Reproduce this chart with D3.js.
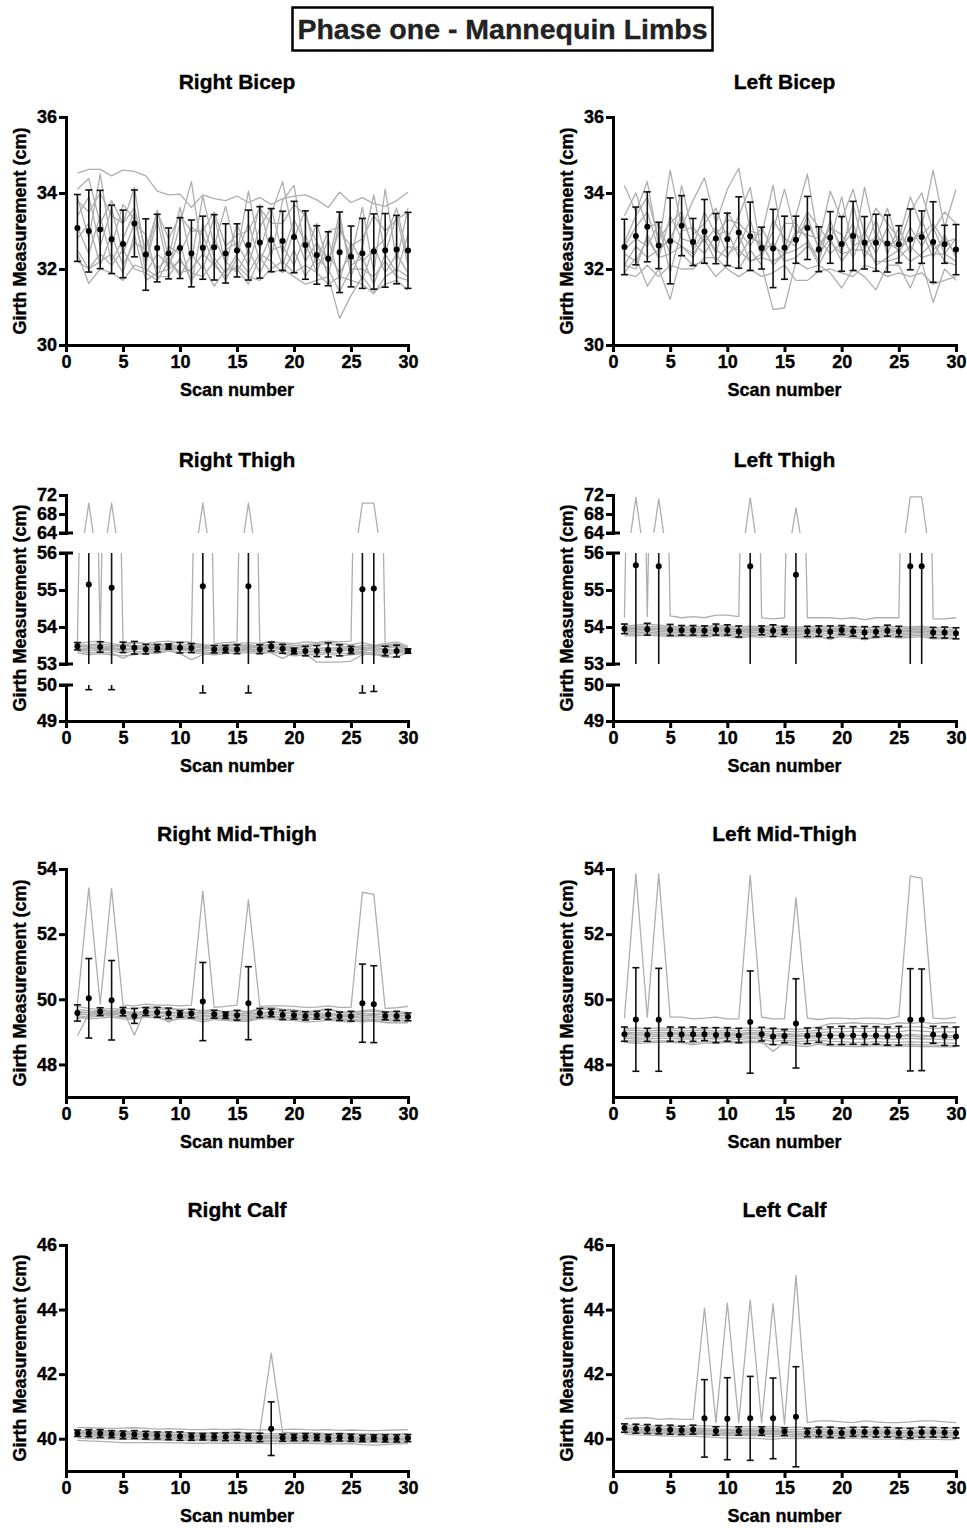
<!DOCTYPE html>
<html><head><meta charset="utf-8">
<script src="https://cdn.jsdelivr.net/npm/d3@7"></script>
<style>
body{margin:0;background:#fff;}
svg text{font-family:"Liberation Sans",Arial,Helvetica,sans-serif;font-weight:bold;}
</style></head><body>
<svg id="c" width="967" height="1528"></svg>
<script>
// ---------------- DATA ----------------
const scans=[1,2,3,4,5,6,7,8,9,10,11,12,13,14,15,16,17,18,19,20,21,22,23,24,25,26,27,28,29,30];
const xTickValues=[0,5,10,15,20,25,30];
const panelTitles=["Right Bicep","Left Bicep","Right Thigh","Left Thigh","Right Mid-Thigh","Left Mid-Thigh","Right Calf","Left Calf"];
const yTicksBicep=[30,32,34,36];
const yTicksThighLow=[49,50], yTicksThighMid=[53,54,55,56], yTicksThighHigh=[64,68,72];
const yTicksMidThigh=[48,50,52,54];
const yTicksCalf=[40,42,44,46];

// Right Bicep
const rbMean=[33.08,33.0,33.04,32.78,32.66,33.2,32.38,32.55,32.41,32.55,32.41,32.56,32.57,32.41,32.49,32.63,32.70,32.76,32.74,32.84,32.63,32.37,32.27,32.44,32.33,32.41,32.46,32.49,32.51,32.49];
const rbSD=[0.88,1.08,1.03,0.9,0.89,0.88,0.94,0.89,0.67,0.8,0.88,0.83,0.86,0.78,0.7,0.92,0.94,0.83,0.78,0.94,0.9,0.77,0.71,1.06,0.8,0.92,0.99,0.97,0.9,1.0];
const rbLines=[
[34.52,34.62,34.62,34.45,34.60,34.57,34.45,34.05,33.95,33.97,33.62,33.95,33.85,33.80,33.92,33.75,33.88,33.70,33.85,33.92,33.95,33.82,33.62,34.02,33.75,33.88,33.72,33.65,33.80,34.02],
[34.10,34.38,33.20,33.80,33.20,34.15,32.20,33.55,32.30,33.62,32.20,33.92,32.60,33.65,32.40,34.05,32.50,33.45,34.30,32.80,33.55,32.20,33.00,33.10,32.30,33.62,31.90,34.10,32.20,33.60],
[33.90,32.80,34.50,32.60,33.70,33.30,32.10,33.30,32.00,33.20,34.30,32.30,33.40,32.10,33.20,32.40,33.70,32.30,33.80,34.20,32.40,33.20,32.10,33.50,31.80,32.60,33.95,32.40,33.40,32.10],
[33.40,33.90,32.60,33.60,32.40,33.20,32.90,31.80,32.60,32.40,33.10,32.90,32.10,32.50,32.70,32.10,33.10,33.60,32.40,33.30,32.70,31.90,32.80,31.70,32.70,32.20,32.50,32.80,33.60,32.30],
[33.10,32.40,33.40,32.20,32.80,33.50,31.90,32.40,32.10,32.70,31.60,33.20,32.30,31.90,32.40,33.20,32.20,32.90,32.10,33.00,32.20,32.70,31.80,33.30,32.10,32.30,31.60,32.40,31.90,32.90],
[32.80,33.20,32.10,32.90,32.10,32.70,32.50,32.00,32.30,31.80,32.40,32.00,32.80,32.20,31.90,32.50,31.90,32.50,32.60,32.10,32.90,32.10,32.40,31.90,32.40,31.70,32.60,31.90,32.40,31.90],
[32.50,32.00,32.20,32.40,31.90,32.90,31.70,31.90,32.00,32.20,31.90,31.80,32.20,31.70,32.30,31.90,32.40,32.20,31.90,32.50,31.80,32.30,32.00,31.40,32.00,32.00,31.80,32.20,31.80,31.70],
[32.40,31.62,32.00,31.90,31.70,32.10,32.00,31.80,31.80,32.30,31.70,32.10,31.55,32.00,32.00,31.60,32.30,31.90,32.00,31.80,31.60,31.70,31.80,30.70,31.30,31.80,31.40,31.60,31.70,31.45],
[32.20,32.00,32.40,32.10,32.50,32.00,31.90,31.70,32.20,31.90,32.00,32.40,32.10,31.80,32.10,31.80,31.70,32.00,32.20,31.90,32.10,31.90,31.60,31.80,31.70,31.60,31.35,31.80,32.00,31.80],
[33.80,33.50,34.00,33.40,33.20,33.60,32.50,33.50,32.80,33.40,33.00,33.00,33.50,32.60,32.90,33.00,33.60,33.20,33.20,33.70,33.40,32.70,32.20,33.00,32.60,32.80,33.40,33.00,33.30,33.50]];

// Left Bicep
const lbMean=[32.58,32.87,33.11,32.62,32.74,33.14,32.71,32.99,32.80,32.78,32.96,32.86,32.55,32.54,32.56,32.77,33.08,32.52,32.83,32.66,32.87,32.69,32.69,32.67,32.65,32.78,32.84,32.71,32.65,32.51];
const lbSD=[0.73,0.76,0.92,0.61,1.13,0.79,0.62,0.84,0.66,0.69,0.94,0.90,0.55,1.03,0.83,0.62,0.83,0.59,0.68,0.72,0.91,0.69,0.75,0.75,0.49,0.80,0.69,1.06,0.50,0.66];
const lbLines=[
[34.20,33.50,34.30,32.60,34.60,33.10,33.80,34.40,33.20,34.10,34.65,33.00,32.90,34.20,32.50,33.40,34.50,32.70,34.05,33.30,34.10,32.90,33.60,33.20,32.80,33.90,33.10,34.60,33.10,34.10],
[33.40,34.00,33.10,33.20,32.40,34.20,32.90,33.20,33.60,32.80,33.40,34.15,32.40,33.00,34.10,32.90,33.50,33.10,32.70,33.90,32.50,34.15,32.80,33.60,32.60,33.50,34.00,33.00,33.50,33.20],
[32.70,33.40,33.90,32.80,33.20,33.50,32.50,33.00,32.40,33.50,33.00,32.60,33.10,32.50,33.20,33.20,32.80,32.20,33.30,32.40,33.70,32.50,33.30,32.40,33.10,32.40,33.30,32.50,32.80,32.40],
[32.50,32.80,32.60,33.20,31.90,33.00,33.10,32.70,33.10,32.40,32.60,33.30,32.30,33.30,32.80,32.60,33.40,32.50,33.10,32.90,32.30,33.00,32.40,33.10,32.40,33.10,32.60,33.10,32.40,32.80],
[32.40,32.20,32.80,32.30,33.40,32.80,32.70,32.40,32.90,33.00,32.30,32.80,32.70,32.10,32.40,33.00,32.90,32.80,32.40,32.70,33.20,32.30,32.90,32.60,32.80,32.70,33.00,32.30,32.90,32.30],
[32.10,32.60,32.30,32.50,32.80,32.60,32.30,32.90,32.50,32.30,32.90,32.20,32.40,32.70,32.20,32.30,32.60,32.40,32.80,32.20,32.60,32.80,32.10,32.30,32.50,32.20,32.40,32.70,32.20,32.10],
[31.90,32.30,31.55,32.00,31.20,32.40,32.10,32.20,31.80,32.10,32.00,32.50,32.10,30.93,30.98,32.20,32.00,32.10,31.90,31.50,32.00,31.80,31.45,32.10,32.10,31.50,32.20,31.12,32.00,31.70],
[31.88,31.80,32.10,31.80,32.10,32.00,32.00,32.30,32.30,32.00,31.80,32.00,31.80,31.90,32.10,31.70,31.70,31.95,32.00,31.90,31.80,32.10,32.00,31.80,31.90,31.80,31.90,31.60,31.70,31.80],
[32.60,33.10,33.50,32.50,32.80,33.40,32.60,33.50,32.90,33.30,33.20,32.90,32.60,32.60,32.40,32.90,33.20,32.60,33.10,32.60,33.00,32.70,32.80,32.70,32.50,32.80,32.90,33.20,32.70,32.80],
[32.10,32.00,32.90,32.30,32.40,32.60,32.40,32.80,32.20,32.60,32.50,32.20,32.30,32.20,32.40,32.50,32.70,32.10,32.70,32.40,32.50,32.50,32.20,32.20,32.30,32.60,32.30,32.40,32.40,32.20]];

// Right Thigh
const rtMean=[53.48,55.15,53.46,55.06,53.45,53.44,53.40,53.43,53.47,53.44,53.43,55.10,53.40,53.40,53.40,55.10,53.40,53.47,53.41,53.35,53.35,53.35,53.38,53.37,53.38,55.02,55.04,53.35,53.35,53.35];
const rtSD=[0.10,5.28,0.14,5.19,0.14,0.17,0.13,0.10,0.07,0.14,0.12,5.32,0.10,0.10,0.12,5.32,0.12,0.12,0.12,0.08,0.13,0.15,0.19,0.15,0.10,5.24,5.22,0.13,0.16,0.06];
const rtLines=[
[53.60,70.30,53.60,70.30,53.55,53.60,53.55,53.60,53.62,53.58,53.60,70.30,53.55,53.58,53.60,70.30,53.55,53.60,53.58,53.55,53.60,53.58,53.62,53.60,53.62,70.30,70.30,53.50,53.55,53.45],
[53.55,53.60,53.62,53.55,53.50,53.58,53.55,53.52,53.55,53.60,53.58,53.52,53.50,53.52,53.55,53.58,53.55,53.62,53.55,53.50,53.52,53.55,53.60,53.55,53.52,53.58,53.50,53.55,53.60,53.48],
[53.50,53.52,53.55,53.50,53.45,53.50,53.48,53.50,53.52,53.50,53.55,53.48,53.45,53.48,53.50,53.52,53.48,53.55,53.50,53.45,53.48,53.50,53.55,53.48,53.45,53.50,53.48,53.50,53.52,53.42],
[53.45,53.48,53.50,53.45,53.40,53.45,53.42,53.45,53.48,53.45,53.48,53.42,53.40,53.42,53.45,53.48,53.42,53.48,53.42,53.38,53.40,53.42,53.45,53.40,53.42,53.45,53.40,53.42,53.48,53.38],
[53.40,53.42,53.45,53.40,53.35,53.40,53.38,53.40,53.45,53.42,53.42,53.38,53.35,53.38,53.40,53.42,53.38,53.42,53.38,53.32,53.35,53.35,53.38,53.35,53.38,53.40,53.35,53.35,53.40,53.35],
[53.38,53.35,53.40,53.35,53.30,53.35,53.32,53.38,53.42,53.38,53.35,53.32,53.30,53.32,53.35,53.35,53.32,53.38,53.32,53.28,53.30,53.30,53.32,53.28,53.30,53.32,53.30,53.30,53.35,53.32],
[53.35,53.30,53.32,53.30,53.15,53.30,53.28,53.32,53.38,53.32,53.30,53.28,53.25,53.28,53.30,53.30,53.28,53.32,53.28,53.22,53.25,53.25,53.28,53.22,53.25,53.28,53.25,53.25,53.30,53.30],
[53.30,53.25,53.28,53.25,53.22,53.25,53.30,53.28,53.35,53.28,53.12,53.25,53.30,53.35,53.38,53.40,53.32,53.30,53.15,53.30,53.28,53.05,53.05,53.05,53.08,53.25,53.28,53.18,53.20,53.30],
[53.50,53.45,53.38,53.48,53.52,53.48,53.45,53.42,53.40,53.45,53.50,53.45,53.42,53.45,53.42,53.45,53.48,53.50,53.45,53.42,53.45,53.40,53.42,53.45,53.48,53.42,53.45,53.48,53.45,53.40],
[53.42,53.38,53.35,53.42,53.38,53.42,53.40,53.35,53.45,53.40,53.38,53.35,53.38,53.40,53.35,53.38,53.40,53.45,53.40,53.35,53.32,53.38,53.35,53.40,53.35,53.35,53.38,53.40,53.38,53.36]];

// Left Thigh
const ltMean=[53.95,55.67,53.94,55.64,53.92,53.91,53.91,53.90,53.93,53.92,53.88,55.64,53.91,53.90,53.91,55.41,53.88,53.89,53.87,53.92,53.88,53.85,53.87,53.90,53.88,55.64,55.64,53.85,53.85,53.83];
const ltSD=[0.13,5.45,0.16,5.40,0.15,0.13,0.13,0.13,0.15,0.14,0.15,5.42,0.12,0.16,0.11,4.80,0.14,0.14,0.16,0.12,0.13,0.16,0.14,0.15,0.14,5.50,5.50,0.14,0.15,0.15];
const ltLines=[
[54.25,71.50,54.28,71.20,54.30,54.25,54.28,54.25,54.32,54.32,54.28,71.40,54.25,54.22,54.25,69.30,54.25,54.25,54.25,54.22,54.25,54.20,54.25,54.25,54.25,71.60,71.60,54.22,54.22,54.25],
[54.02,54.05,54.08,54.05,54.02,54.00,54.02,54.00,54.05,54.02,54.00,54.02,54.00,54.05,54.00,54.00,54.00,54.02,54.00,54.02,54.00,53.98,54.00,54.02,54.00,54.00,54.02,53.98,53.98,53.98],
[53.98,54.00,54.02,54.00,53.98,53.96,53.98,53.96,54.00,53.98,53.95,53.98,53.96,54.00,53.96,53.96,53.95,53.98,53.95,53.98,53.95,53.92,53.95,53.98,53.95,53.96,53.98,53.92,53.92,53.92],
[53.95,53.96,53.98,53.95,53.94,53.92,53.94,53.92,53.96,53.94,53.90,53.94,53.92,53.95,53.92,53.92,53.90,53.94,53.90,53.95,53.90,53.88,53.90,53.94,53.90,53.92,53.94,53.88,53.88,53.88],
[53.92,53.92,53.94,53.92,53.90,53.88,53.90,53.88,53.92,53.90,53.86,53.90,53.88,53.92,53.88,53.88,53.86,53.90,53.86,53.90,53.86,53.84,53.86,53.90,53.86,53.88,53.90,53.84,53.84,53.84],
[53.88,53.88,53.90,53.88,53.86,53.84,53.86,53.84,53.88,53.86,53.82,53.86,53.84,53.88,53.84,53.84,53.82,53.86,53.80,53.86,53.82,53.78,53.82,53.86,53.82,53.84,53.86,53.80,53.80,53.80],
[53.84,53.84,53.86,53.84,53.82,53.80,53.82,53.80,53.84,53.82,53.78,53.82,53.80,53.84,53.80,53.80,53.78,53.82,53.74,53.82,53.78,53.70,53.78,53.82,53.78,53.80,53.82,53.76,53.76,53.76],
[53.80,53.80,53.82,53.80,53.78,53.76,53.78,53.76,53.80,53.78,53.74,53.78,53.76,53.80,53.76,53.76,53.74,53.76,53.66,53.78,53.74,53.65,53.74,53.78,53.74,53.76,53.78,53.72,53.70,53.72],
[53.76,53.76,53.78,53.76,53.74,53.74,53.74,53.72,53.76,53.74,53.70,53.74,53.72,53.76,53.72,53.72,53.70,53.72,53.70,53.74,53.70,53.68,53.70,53.74,53.70,53.72,53.74,53.68,53.68,53.68],
[53.90,53.94,53.92,53.96,53.92,53.94,53.88,53.90,53.94,53.92,53.94,53.88,53.94,53.86,53.94,53.90,53.92,53.88,53.92,53.88,53.92,53.90,53.88,53.92,53.88,53.90,53.86,53.90,53.86,53.90]];

// Right Mid-Thigh
const rmMean=[49.58,50.03,49.62,49.97,49.62,49.49,49.62,49.60,49.57,49.55,49.56,49.93,49.54,49.51,49.51,49.88,49.58,49.58,49.52,49.51,49.49,49.51,49.53,49.48,49.48,49.88,49.85,49.49,49.49,49.46];
const rmSD=[0.25,1.22,0.12,1.22,0.13,0.23,0.12,0.15,0.16,0.10,0.13,1.20,0.12,0.10,0.15,1.12,0.14,0.12,0.14,0.12,0.13,0.12,0.15,0.13,0.15,1.20,1.18,0.12,0.14,0.12];
const rmLines=[
[49.85,53.42,49.85,53.40,49.82,49.80,49.85,49.82,49.82,49.80,49.82,53.32,49.75,49.78,49.82,53.05,49.78,49.80,49.80,49.78,49.75,49.76,49.80,49.75,49.75,53.28,53.22,49.72,49.74,49.78],
[48.88,49.55,49.70,49.60,49.72,49.70,49.78,49.75,49.72,49.70,49.68,49.65,49.68,49.62,49.65,49.62,49.72,49.75,49.70,49.68,49.62,49.65,49.72,49.62,49.60,49.65,49.68,49.62,49.62,49.60],
[49.78,49.72,49.68,49.72,49.68,48.90,49.72,49.70,49.68,49.68,49.70,49.60,49.65,49.60,49.62,49.60,49.68,49.70,49.66,49.64,49.58,49.62,49.68,49.60,49.58,49.62,49.64,49.58,49.58,49.55],
[49.68,49.65,49.62,49.65,49.62,49.55,49.65,49.62,49.60,49.60,49.62,49.55,49.58,49.55,49.55,49.55,49.60,49.62,49.58,49.56,49.52,49.55,49.60,49.52,49.50,49.55,49.56,49.52,49.52,49.50],
[49.60,49.58,49.56,49.60,49.56,49.52,49.60,49.58,49.55,49.55,49.56,49.50,49.52,49.50,49.50,49.50,49.55,49.56,49.52,49.50,49.48,49.50,49.55,49.48,49.46,49.50,49.50,49.46,49.46,49.45],
[49.55,49.52,49.52,49.55,49.50,49.48,49.55,49.52,49.50,49.50,49.50,49.45,49.48,49.45,49.45,49.45,49.50,49.50,49.46,49.45,49.42,49.45,49.48,49.42,49.42,49.45,49.45,49.40,49.40,49.40],
[49.50,49.45,49.48,49.50,49.45,49.42,49.50,49.48,49.45,49.45,49.45,49.38,49.42,49.40,49.40,49.40,49.45,49.45,49.40,49.40,49.38,49.40,49.42,49.36,49.36,49.40,49.38,49.35,49.35,49.35],
[49.45,49.40,49.42,49.45,49.40,49.38,49.45,49.42,49.35,49.40,49.40,49.30,49.38,49.35,49.32,49.32,49.40,49.40,49.35,49.35,49.30,49.32,49.36,49.32,49.30,49.35,49.32,49.30,49.30,49.30],
[49.40,49.50,49.55,49.52,49.58,49.62,49.55,49.50,49.30,49.45,49.50,49.35,49.45,49.40,49.38,49.35,49.45,49.50,49.42,49.45,49.40,49.45,49.42,49.38,49.35,49.30,49.35,49.28,49.28,49.28],
[49.62,49.60,49.58,49.55,49.62,49.60,49.62,49.60,49.62,49.58,49.60,49.58,49.55,49.58,49.52,49.58,49.55,49.60,49.62,49.55,49.60,49.52,49.50,49.55,49.52,49.58,49.52,49.55,49.50,49.52]];

// Left Mid-Thigh
const lmMean=[48.93,49.38,48.91,49.37,48.93,48.92,48.93,48.93,48.90,48.92,48.89,49.30,48.93,48.86,48.87,49.26,48.88,48.90,48.88,48.89,48.89,48.89,48.89,48.87,48.88,49.37,49.37,48.91,48.87,48.86];
const lmSD=[0.22,1.59,0.20,1.58,0.22,0.22,0.22,0.20,0.23,0.21,0.22,1.57,0.21,0.25,0.20,1.37,0.24,0.22,0.27,0.28,0.27,0.28,0.27,0.28,0.29,1.57,1.56,0.26,0.29,0.29];
const lmLines=[
[49.42,53.85,49.45,53.85,49.45,49.45,49.40,49.42,49.45,49.40,49.40,53.80,49.45,49.40,49.40,53.12,49.42,49.38,49.42,49.42,49.40,49.42,49.42,49.40,49.47,53.78,53.72,49.42,49.40,49.45],
[49.10,49.12,49.10,49.12,49.10,49.10,49.12,49.10,49.12,49.10,49.10,49.12,49.10,49.08,49.10,49.08,49.10,49.15,49.25,49.25,49.28,49.25,49.25,49.22,49.28,49.25,49.30,49.25,49.28,49.28],
[49.05,49.05,49.02,49.05,49.05,49.02,49.05,49.05,49.02,49.05,49.02,49.05,49.02,49.00,49.02,49.00,49.02,49.05,49.10,49.10,49.12,49.10,49.12,49.10,49.12,49.15,49.15,49.10,49.12,49.12],
[48.98,48.98,48.96,48.98,48.98,48.96,48.98,48.98,48.96,48.98,48.95,48.98,48.96,48.92,48.95,48.92,48.95,48.98,49.00,49.00,49.02,49.00,49.02,49.00,49.00,49.05,49.02,49.00,49.00,49.00],
[48.92,48.90,48.90,48.92,48.92,48.90,48.92,48.92,48.90,48.92,48.88,48.92,48.90,48.85,48.88,48.85,48.88,48.90,48.88,48.90,48.90,48.88,48.90,48.88,48.88,48.92,48.90,48.88,48.88,48.88],
[48.85,48.84,48.84,48.86,48.86,48.84,48.85,48.86,48.84,48.85,48.82,48.85,48.84,48.78,48.82,48.78,48.80,48.82,48.78,48.80,48.78,48.78,48.80,48.78,48.78,48.80,48.78,48.78,48.76,48.76],
[48.80,48.78,48.78,48.80,48.80,48.78,48.78,48.80,48.78,48.80,48.76,48.80,48.78,48.70,48.75,48.70,48.72,48.75,48.70,48.70,48.68,48.68,48.70,48.68,48.68,48.70,48.68,48.68,48.66,48.65],
[48.72,48.72,48.70,48.72,48.72,48.70,48.65,48.72,48.70,48.72,48.70,48.72,48.70,48.40,48.68,48.65,48.62,48.68,48.60,48.62,48.60,48.60,48.62,48.60,48.60,48.62,48.60,48.60,48.58,48.58],
[48.68,48.65,48.66,48.68,48.68,48.66,48.60,48.66,48.65,48.68,48.65,48.68,48.66,48.60,48.62,48.58,48.55,48.62,48.56,48.56,48.55,48.55,48.58,48.55,48.55,48.56,48.55,48.55,48.54,48.54],
[48.95,48.92,48.94,48.90,48.94,48.92,48.88,48.92,48.94,48.90,48.92,48.94,48.90,48.88,48.92,48.90,48.85,48.88,48.92,48.86,48.88,48.90,48.84,48.88,48.86,48.88,48.84,48.88,48.82,48.84]];

// Right Calf
const rcMean=[40.17,40.17,40.16,40.14,40.12,40.13,40.11,40.10,40.09,40.08,40.06,40.06,40.06,40.06,40.07,40.05,40.04,40.31,40.03,40.04,40.05,40.04,40.02,40.04,40.03,40.01,40.02,40.01,40.01,40.02];
const rcSD=[0.10,0.11,0.12,0.11,0.12,0.12,0.12,0.11,0.12,0.13,0.11,0.10,0.11,0.12,0.12,0.11,0.13,0.83,0.11,0.10,0.11,0.10,0.11,0.11,0.11,0.10,0.10,0.11,0.11,0.11];
const rcLines=[
[40.25,40.25,40.22,40.22,40.20,40.22,40.20,40.20,40.18,40.20,40.18,40.18,40.18,40.20,40.20,40.18,40.20,42.65,40.20,40.18,40.18,40.18,40.15,40.18,40.15,40.15,40.15,40.15,40.15,40.15],
[40.35,40.34,40.33,40.32,40.33,40.34,40.32,40.30,40.31,40.30,40.28,40.28,40.30,40.28,40.30,40.28,40.27,40.28,40.28,40.30,40.28,40.27,40.28,40.26,40.27,40.26,40.25,40.26,40.27,40.28],
[40.25,40.24,40.25,40.24,40.22,40.22,40.21,40.20,40.20,40.19,40.18,40.18,40.18,40.17,40.18,40.16,40.16,40.16,40.15,40.16,40.16,40.15,40.14,40.15,40.15,40.14,40.13,40.13,40.14,40.14],
[40.20,40.20,40.19,40.18,40.17,40.17,40.16,40.15,40.14,40.13,40.12,40.12,40.12,40.11,40.12,40.10,40.10,40.10,40.10,40.10,40.10,40.10,40.08,40.10,40.09,40.08,40.08,40.08,40.08,40.08],
[40.16,40.16,40.14,40.14,40.12,40.12,40.11,40.10,40.09,40.08,40.07,40.06,40.06,40.06,40.06,40.05,40.04,40.04,40.04,40.05,40.04,40.04,40.02,40.04,40.03,40.02,40.02,40.02,40.02,40.02],
[40.12,40.11,40.10,40.10,40.08,40.08,40.07,40.06,40.05,40.04,40.02,40.02,40.02,40.02,40.02,40.00,40.00,40.00,40.00,40.00,40.00,39.99,39.98,40.00,39.98,39.98,39.98,39.97,39.97,39.98],
[40.08,40.06,40.06,40.05,40.04,40.04,40.02,40.02,40.00,40.00,39.98,39.98,39.98,39.97,39.98,39.96,39.96,39.95,39.96,39.96,39.96,39.95,39.94,39.95,39.94,39.94,39.93,39.93,39.93,39.93],
[40.02,40.00,40.00,39.99,39.98,39.98,39.97,39.96,39.96,39.95,39.94,39.94,39.93,39.93,39.93,39.92,39.91,39.91,39.91,39.92,39.91,39.90,39.90,39.90,39.90,39.89,39.88,39.88,39.88,39.89],
[39.95,39.93,39.92,39.90,39.88,39.88,39.88,39.88,39.88,39.87,39.86,39.86,39.87,39.86,39.86,39.86,39.86,39.85,39.85,39.86,39.86,39.85,39.84,39.84,39.85,39.82,39.80,39.82,39.84,39.85],
[40.18,40.14,40.16,40.12,40.15,40.12,40.14,40.12,40.10,40.12,40.08,40.10,40.06,40.08,40.10,40.06,40.08,40.05,40.06,40.04,40.06,40.05,40.04,40.02,40.05,40.02,40.04,40.02,40.00,40.02]];

// Left Calf
const lcMean=[40.33,40.31,40.30,40.28,40.28,40.26,40.28,40.63,40.24,40.62,40.24,40.63,40.24,40.63,40.22,40.68,40.19,40.21,40.20,40.18,40.21,40.21,40.20,40.20,40.18,40.17,40.20,40.20,40.19,40.18];
const lcSD=[0.13,0.14,0.14,0.13,0.14,0.13,0.14,1.20,0.13,1.27,0.13,1.30,0.13,1.25,0.12,1.55,0.13,0.15,0.16,0.15,0.14,0.15,0.15,0.15,0.15,0.15,0.16,0.15,0.15,0.16];
const lcLines=[
[40.62,40.64,40.65,40.60,40.62,40.60,40.60,44.05,40.50,44.20,40.50,44.30,40.50,44.18,40.45,45.05,40.50,40.55,40.55,40.52,40.50,40.55,40.52,40.50,40.50,40.52,40.55,40.55,40.52,40.50],
[40.42,40.42,40.40,40.40,40.38,40.38,40.40,40.40,40.38,40.38,40.36,40.38,40.36,40.38,40.35,40.36,40.34,40.34,40.35,40.34,40.36,40.35,40.34,40.35,40.33,40.34,40.35,40.34,40.33,40.33],
[40.36,40.35,40.34,40.33,40.32,40.32,40.33,40.32,40.30,40.30,40.30,40.31,40.30,40.31,40.29,40.28,40.28,40.29,40.28,40.27,40.29,40.28,40.27,40.28,40.26,40.26,40.27,40.27,40.26,40.26],
[40.32,40.30,40.30,40.28,40.28,40.26,40.28,40.26,40.25,40.25,40.25,40.26,40.25,40.25,40.24,40.22,40.22,40.24,40.22,40.21,40.24,40.23,40.22,40.22,40.20,40.20,40.21,40.22,40.20,40.20],
[40.28,40.26,40.26,40.24,40.24,40.22,40.24,40.22,40.21,40.20,40.20,40.21,40.20,40.21,40.19,40.17,40.17,40.19,40.17,40.16,40.19,40.18,40.17,40.17,40.15,40.15,40.16,40.17,40.15,40.15],
[40.24,40.22,40.22,40.20,40.20,40.18,40.20,40.18,40.16,40.16,40.16,40.16,40.16,40.16,40.14,40.12,40.12,40.14,40.12,40.11,40.14,40.13,40.12,40.12,40.10,40.10,40.11,40.12,40.10,40.10],
[40.20,40.18,40.17,40.16,40.15,40.14,40.15,40.13,40.12,40.10,40.10,40.10,40.08,40.06,40.08,40.06,40.06,40.08,40.06,40.06,40.08,40.07,40.06,40.06,40.04,40.04,40.05,40.06,40.04,40.04],
[40.14,40.12,40.11,40.10,40.08,40.08,40.08,40.06,40.04,40.02,40.02,40.02,40.00,39.98,40.02,40.00,40.00,40.02,40.00,40.00,40.02,40.00,39.99,39.99,39.98,39.97,39.98,39.99,39.97,39.97],
[40.28,40.30,40.27,40.29,40.26,40.28,40.25,40.27,40.24,40.26,40.23,40.25,40.22,40.24,40.20,40.22,40.22,40.20,40.22,40.20,40.21,40.19,40.21,40.19,40.20,40.18,40.20,40.18,40.19,40.17],
[40.18,40.20,40.18,40.19,40.18,40.16,40.17,40.15,40.16,40.14,40.15,40.13,40.14,40.12,40.13,40.11,40.12,40.10,40.11,40.09,40.10,40.08,40.09,40.07,40.08,40.06,40.07,40.05,40.06,40.04]];

// ---------------- LAYOUT ----------------
const colX=[[66,408],[613,956]];
const segBicep=[{d:[30,36],r:[345,117],ticks:yTicksBicep}];
const segThigh=[{d:[49,50],r:[721,685],ticks:yTicksThighLow},{d:[53,56],r:[664,553],ticks:yTicksThighMid},{d:[64,72],r:[533,495],ticks:yTicksThighHigh}];
const segMid=[{d:[47,54],r:[1097,869],ticks:yTicksMidThigh}];
const segCalf=[{d:[39,46],r:[1471,1245],ticks:yTicksCalf}];
const panels=[
 {col:0,segs:segBicep,mean:rbMean,sd:rbSD,lines:rbLines},
 {col:1,segs:segBicep,mean:lbMean,sd:lbSD,lines:lbLines},
 {col:0,segs:segThigh,mean:rtMean,sd:rtSD,lines:rtLines},
 {col:1,segs:segThigh,mean:ltMean,sd:ltSD,lines:ltLines},
 {col:0,segs:segMid,mean:rmMean,sd:rmSD,lines:rmLines},
 {col:1,segs:segMid,mean:lmMean,sd:lmSD,lines:lmLines},
 {col:0,segs:segCalf,mean:rcMean,sd:rcSD,lines:rcLines},
 {col:1,segs:segCalf,mean:lcMean,sd:lcSD,lines:lcLines}
];

const svg=d3.select("#c");
const defs=svg.append("defs");
const TXT_STROKE=0.35;

// main title
svg.append("rect").attr("x",292.5).attr("y",7.5).attr("width",420).attr("height",43)
  .attr("fill","none").attr("stroke","#000").attr("stroke-width",2.5);
svg.append("text").attr("x",502.5).attr("y",39).attr("text-anchor","middle")
  .attr("font-size",28.5).attr("fill","#222").attr("stroke","#222").attr("stroke-width",TXT_STROKE)
  .text("Phase one - Mannequin Limbs");

function styleTickText(sel){
  sel.attr("font-size",18).attr("fill","#000").attr("stroke","#000").attr("stroke-width",TXT_STROKE)
    .style("font-family",'"Liberation Sans",Arial,sans-serif').style("font-weight","bold");
}

panels.forEach((p,pi)=>{
  const [xa,xb]=colX[p.col];
  const x=d3.scaleLinear().domain([0,30]).range([xa,xb]);
  const g=svg.append("g");
  const top=d3.min(p.segs,s=>s.r[1]);
  const bottom=d3.max(p.segs,s=>s.r[0]);
  const cx=(xa+xb)/2;

  g.append("text").attr("x",cx).attr("y",top-28).attr("text-anchor","middle")
    .attr("font-size",21).attr("fill","#000").attr("stroke","#000").attr("stroke-width",TXT_STROKE)
    .text(panelTitles[pi]);

  p.segs.forEach((s,si)=>{
    const y=d3.scaleLinear().domain(s.d).range(s.r);
    const id=`clip${pi}_${si}`;
    defs.append("clipPath").attr("id",id).append("rect")
      .attr("x",xa+1).attr("y",s.r[1]).attr("width",xb-xa+10).attr("height",s.r[0]-s.r[1]);
    const dg=g.append("g").attr("clip-path",`url(#${id})`);
    const line=d3.line().x((d,i)=>x(scans[i])).y(d=>y(d));
    dg.selectAll("path.ind").data(p.lines).join("path").attr("class","ind")
      .attr("d",line).attr("fill","none").attr("stroke","#aeaeae").attr("stroke-width",1.3)
      .attr("stroke-linejoin","round");
    const eb=dg.selectAll("g.eb").data(scans).join("g").attr("class","eb")
      .attr("stroke","#111").attr("stroke-width",1.6);
    eb.append("line").attr("x1",d=>x(d)).attr("x2",d=>x(d))
      .attr("y1",(d,i)=>y(p.mean[i]-p.sd[i])).attr("y2",(d,i)=>y(p.mean[i]+p.sd[i]));
    eb.append("line").attr("x1",d=>x(d)-3.5).attr("x2",d=>x(d)+3.5)
      .attr("y1",(d,i)=>y(p.mean[i]-p.sd[i])).attr("y2",(d,i)=>y(p.mean[i]-p.sd[i]));
    eb.append("line").attr("x1",d=>x(d)-3.5).attr("x2",d=>x(d)+3.5)
      .attr("y1",(d,i)=>y(p.mean[i]+p.sd[i])).attr("y2",(d,i)=>y(p.mean[i]+p.sd[i]));
    dg.selectAll("circle").data(scans).join("circle")
      .attr("cx",d=>x(d)).attr("cy",(d,i)=>y(p.mean[i])).attr("r",3).attr("fill","#000");

    // y axis segment
    const ax=g.append("g").attr("transform",`translate(${xa},0)`)
      .call(d3.axisLeft(y).tickValues(s.ticks).tickSize(7).tickSizeOuter(0).tickPadding(2).tickFormat(d3.format("d")));
    ax.select(".domain").attr("stroke","#000").attr("stroke-width",3).attr("stroke-linecap","square");
    ax.selectAll(".tick line").attr("stroke","#000").attr("stroke-width",3);
    styleTickText(ax.selectAll(".tick text"));
    // break caps
    if(p.segs.length>1){
      const ends=[];
      if(si>0) ends.push(s.d[0]);
      if(si<p.segs.length-1) ends.push(s.d[1]);
      ends.forEach(v=>{
        g.append("line").attr("x1",xa-7).attr("x2",xa+7).attr("y1",y(v)).attr("y2",y(v))
          .attr("stroke","#000").attr("stroke-width",3);
      });
    }
  });

  // x axis
  const xg=g.append("g").attr("transform",`translate(0,${bottom})`)
    .call(d3.axisBottom(x).tickValues(xTickValues).tickSize(7).tickSizeOuter(0).tickPadding(3));
  xg.select(".domain").attr("stroke","#000").attr("stroke-width",3).attr("stroke-linecap","square");
  xg.selectAll(".tick line").attr("stroke","#000").attr("stroke-width",3);
  styleTickText(xg.selectAll(".tick text"));

  g.append("text").attr("x",cx).attr("y",bottom+51).attr("text-anchor","middle")
    .attr("font-size",18).attr("fill","#000").attr("stroke","#000").attr("stroke-width",TXT_STROKE)
    .text("Scan number");
  g.append("text").attr("transform",`translate(${xa-45},${(top+bottom)/2}) rotate(-90)`)
    .attr("text-anchor","middle").attr("dominant-baseline","middle")
    .attr("font-size",18).attr("fill","#000").attr("stroke","#000").attr("stroke-width",TXT_STROKE)
    .text("Girth Measurement (cm)");
});
</script>
</body></html>
